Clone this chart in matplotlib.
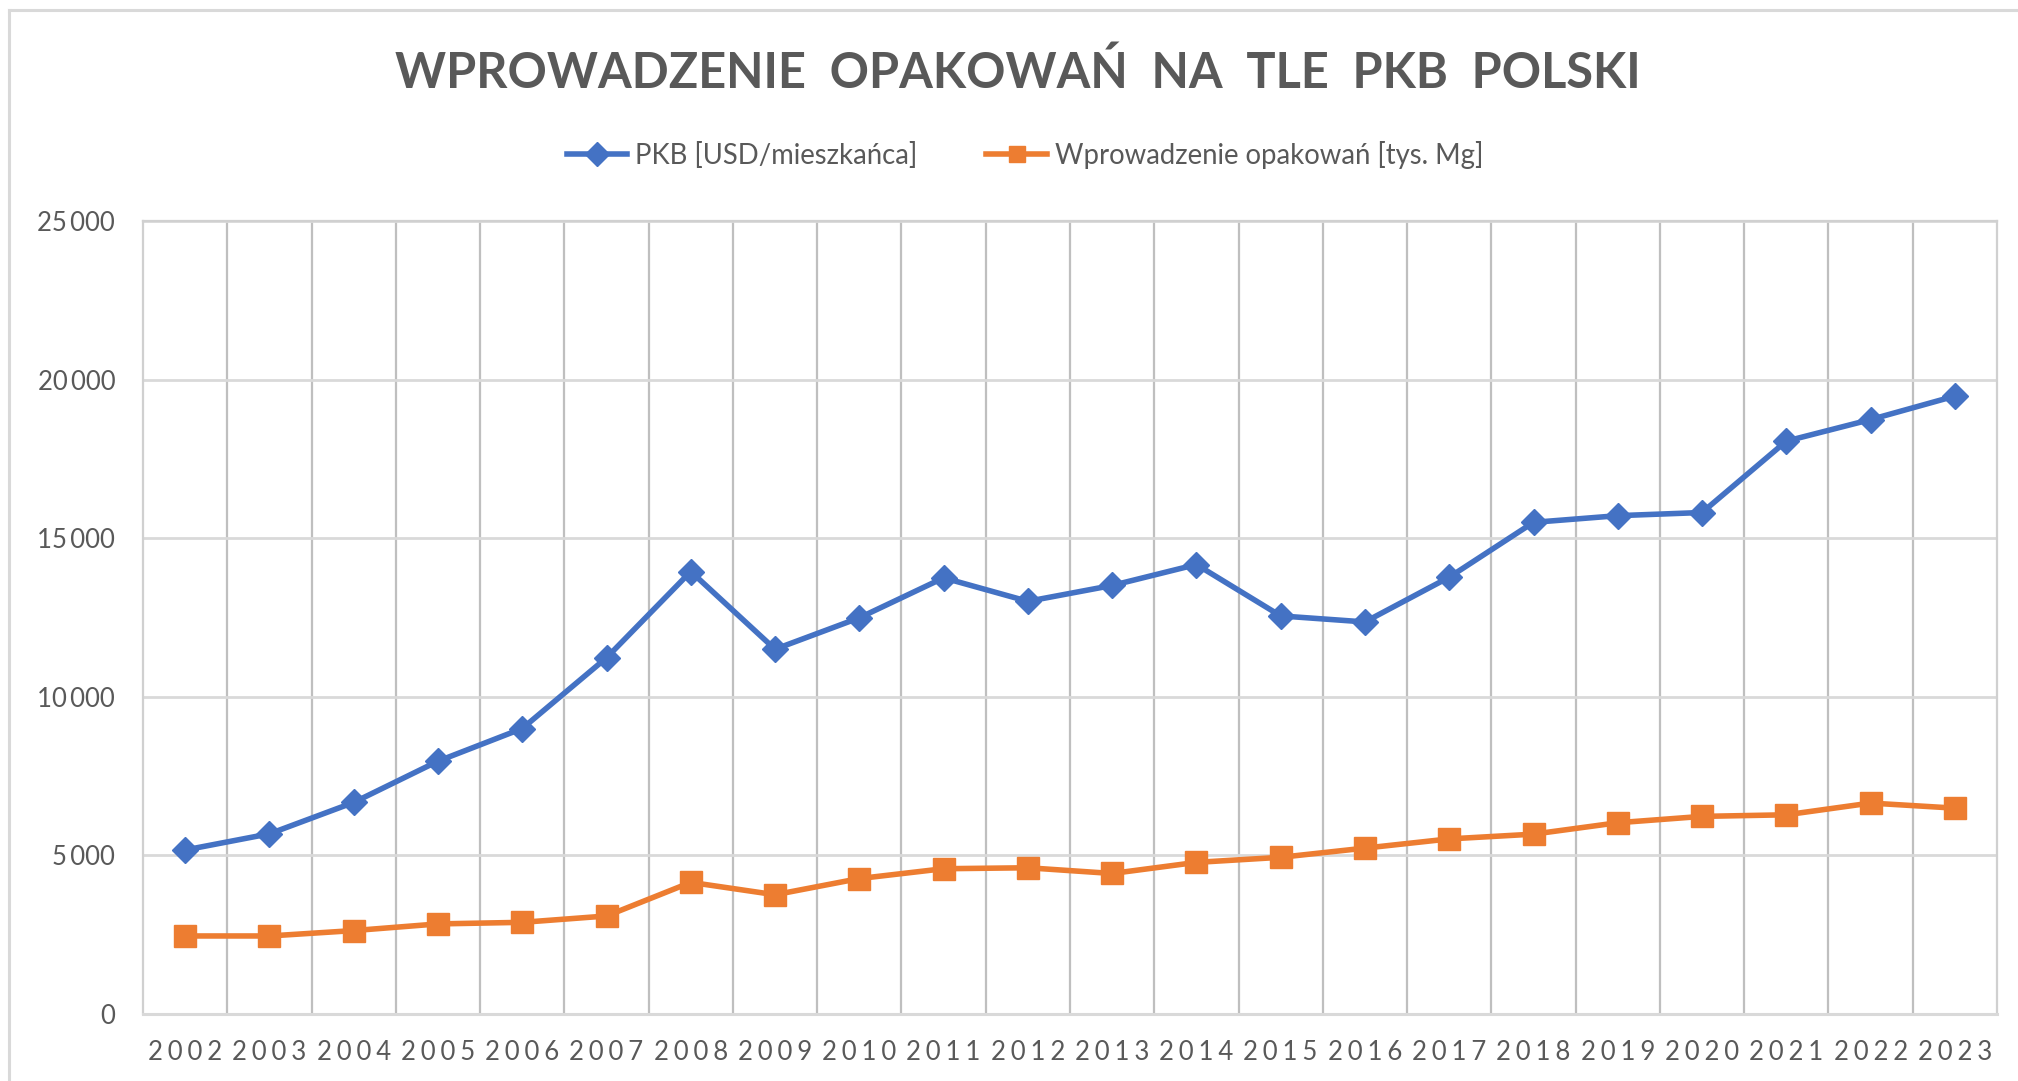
import matplotlib
matplotlib.use('Agg')
import matplotlib.pyplot as plt
from matplotlib.lines import Line2D
from matplotlib.ticker import FixedLocator, FuncFormatter

# ---- data ----
years = ['2002', '2003', '2004', '2005', '2006', '2007', '2008', '2009', '2010', '2011', '2012',
         '2013', '2014', '2015', '2016', '2017', '2018', '2019', '2020', '2021', '2022', '2023']
pkb = [5170, 5680, 6670, 7970, 9000, 11230, 13950, 11500, 12490, 13750, 13010,
       13510, 14170, 12550, 12360, 13770, 15500, 15710, 15810, 18060, 18740, 19480]
opakowania = [2460, 2460, 2630, 2840, 2890, 3090, 4150, 3760, 4270, 4580, 4610,
              4430, 4780, 4940, 5230, 5520, 5670, 6030, 6230, 6280, 6650, 6490]
label_pkb = 'PKB [USD/mieszkańca]'
label_opak = 'Wprowadzenie opakowań [tys. Mg]'
title = 'WPROWADZENIE  OPAKOWAŃ  NA  TLE  PKB  POLSKI'
yticks = [0, 5000, 10000, 15000, 20000, 25000]

BLUE = '#4472C4'
ORANGE = '#ED7D31'
TXT = '#595959'
plt.rcParams['font.family'] = ['Lato', 'DejaVu Sans']

fig = plt.figure(figsize=(20.18, 10.81), dpi=100)
ax = fig.add_axes([143 / 2018, 1 - 1014 / 1081, (1997 - 143) / 2018, (1014 - 221) / 1081])

x = list(range(len(years)))
ax.plot(x, pkb, color=BLUE, lw=4, marker='D', ms=13, label=label_pkb, zorder=3)
ax.plot(x, opakowania, color=ORANGE, lw=4, marker='s', ms=16, label=label_opak, zorder=3)

ax.set_xlim(-0.5, len(years) - 0.5)
ax.set_ylim(0, 25000)

ax.set_xticks(x)
spaced = ['\u2009\u200a'.join(list(y)) for y in years]
ax.set_xticklabels(spaced, fontsize=18.5, color=TXT)
ax.xaxis.set_minor_locator(FixedLocator([i + 0.5 for i in range(len(years) - 1)]))
ax.set_yticks(yticks)
ax.yaxis.set_major_formatter(FuncFormatter(lambda v, p: f'{int(v):,}'.replace(',', '\u2009')))
for t in ax.get_yticklabels():
    t.set_fontsize(18.5)
    t.set_color(TXT)
ax.tick_params(axis='both', which='both', length=0)
ax.tick_params(axis='x', pad=19)
ax.tick_params(axis='y', pad=20)

ax.grid(axis='y', which='major', color='#d9d9d9', lw=2.0, zorder=0)
ax.grid(axis='x', which='minor', color='#bfbfbf', lw=1.6, zorder=0)
ax.grid(axis='x', which='major', visible=False)
for s in ['left', 'right', 'top']:
    ax.spines[s].set_color('#d0d0d0')
    ax.spines[s].set_linewidth(1.6)
ax.spines['bottom'].set_color('#d9d9d9')
ax.spines['bottom'].set_linewidth(2.2)
ax.set_axisbelow(True)

fig.text(0.5045, 1 - 73 / 1081, title, ha='center', va='center', fontsize=35,
         fontweight='bold', color=TXT)

leg = fig.legend(loc='center', bbox_to_anchor=(0.508, 1 - 155 / 1081), ncol=2, frameon=False,
                 fontsize=19.8, handlelength=2.2, columnspacing=2.5, handletextpad=0.3,
                 labelcolor=TXT)
for h in leg.legend_handles:
    h.set_markersize(12)

# outer chart border
fig.add_artist(Line2D([9 / 2018, 9 / 2018], [0, 1 - 10 / 1081], transform=fig.transFigure,
                      color='#d9d9d9', lw=2.2))
fig.add_artist(Line2D([9 / 2018, 1], [1 - 10 / 1081, 1 - 10 / 1081], transform=fig.transFigure,
                      color='#d9d9d9', lw=2.2))

fig.savefig('out.png', dpi=100, facecolor='white')
